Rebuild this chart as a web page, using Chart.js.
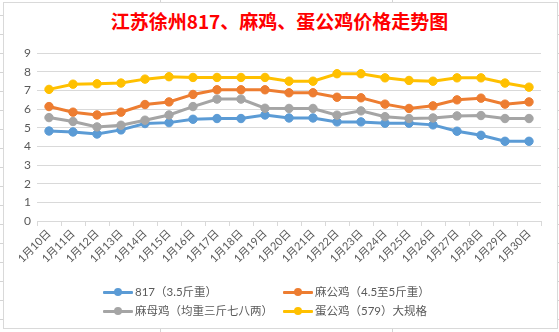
<!DOCTYPE html>
<html>
<head>
<meta charset="utf-8">
<script src="https://cdn.jsdelivr.net/npm/chart.js@4/dist/chart.umd.min.js"></script>
<style>
  html, body { margin:0; padding:0; background:#fff; }
  #sheet { position:absolute; left:0; top:0; width:559px; height:332px; overflow:hidden;
    background-image: repeating-linear-gradient(to bottom, transparent 0px, transparent 15px, #d4d4d4 15px, #d4d4d4 16px, transparent 16px, transparent 19px);
  }
  .col { position:absolute; top:0; width:1px; height:332px; background:#d4d4d4; }
  #box { position:absolute; left:3px; top:2px; width:553px; height:325px; border:1px solid #d9d9d9; background:#fff; }
  #title { position:absolute; left:0; width:559px; top:8px; text-align:center; color:#ff0000;
    font-family:"Noto Sans CJK SC", sans-serif; font-weight:bold; font-size:19px; line-height:26px; }
  #c { position:absolute; left:0; top:0; }
  .lg { position:absolute; font-family: Lato, "Noto Sans CJK SC", sans-serif; font-size:11.5px; color:#595959; line-height:16px; white-space:nowrap; }
  .sym { position:absolute; width:30px; height:3px; top:6.5px; left:0; border-radius:1px; }
  .dot { position:absolute; width:8px; height:8px; border-radius:50%; left:11px; top:-2.5px; }
  .txt { position:absolute; left:32px; top:0; }
</style>
</head>
<body>
<div id="sheet">
  <div class="col" style="left:160px"></div>
  <div class="col" style="left:392px"></div>
</div>
<div id="box"></div>
<div id="title"></div>
<canvas id="c" width="559" height="332"></canvas>
<div id="legend"></div>
<script>
const titleText = "江苏徐州817、麻鸡、蛋公鸡价格走势图";
const categories = ["1月10日","1月11日","1月12日","1月13日","1月14日","1月15日","1月16日","1月17日","1月18日","1月19日","1月20日","1月21日","1月22日","1月23日","1月24日","1月25日","1月26日","1月27日","1月28日","1月29日","1月30日"];
const seriesNames = ["817（3.5斤重）","麻公鸡（4.5至5斤重）","麻母鸡（均重三斤七八两）","蛋公鸡（579）大规格"];
const s817   = [4.82,4.77,4.66,4.88,5.22,5.27,5.45,5.49,5.49,5.68,5.52,5.52,5.31,5.31,5.24,5.24,5.15,4.81,4.59,4.27,4.27];
const maGong = [6.13,5.83,5.68,5.83,6.24,6.38,6.78,7.03,7.03,7.03,6.87,6.87,6.63,6.60,6.26,6.03,6.17,6.49,6.58,6.26,6.38];
const maMu   = [5.54,5.33,5.04,5.13,5.40,5.68,6.13,6.53,6.53,6.04,6.03,6.03,5.67,5.90,5.59,5.49,5.52,5.63,5.65,5.49,5.49];
const danGong= [7.05,7.33,7.35,7.39,7.60,7.73,7.69,7.69,7.69,7.69,7.49,7.49,7.89,7.89,7.67,7.53,7.49,7.67,7.67,7.39,7.17];
const yTicks = [0,1,2,3,4,5,6,7,8,9];

const colors = ["#5b9bd5","#ed7d31","#a5a5a5","#ffc000"];
const values = [s817, maGong, maMu, danGong];

document.getElementById('title').textContent = titleText;

const datasets = values.map((v,i)=>({
  label: seriesNames[i],
  data: v,
  borderColor: colors[i],
  backgroundColor: colors[i],
  pointBackgroundColor: colors[i],
  pointBorderColor: colors[i],
  borderWidth: 3,
  pointRadius: 4.2,
  pointBorderWidth: 1,
  tension: 0,
  order: 4 - i
}));

new Chart(document.getElementById('c'), {
  type: 'line',
  data: { labels: categories, datasets },
  options: {
    responsive: false,
    animation: false,
    layout: { padding: { left: 7, right: 18, top: 53, bottom: 0 } },
    plugins: { legend: { display:false }, title: { display:false }, tooltip: { enabled:false } },
    scales: {
      x: {
        offset: true,
        grid: { offset: true, drawOnChartArea: false, drawTicks: true, tickLength: 5, color: '#d9d9d9' },
        border: { color: '#d9d9d9' },
        ticks: { minRotation: 45, maxRotation: 45, autoSkip: false, color: '#595959', padding: 1,
          font: { family: 'Lato, "Noto Sans CJK SC", sans-serif', size: 11 } },
        afterFit: s => { s.height = 111; }
      },
      y: {
        min: 0, max: 9,
        afterBuildTicks: s => { s.ticks = yTicks.map(v=>({value:v})); },
        grid: { color: '#d9d9d9', drawTicks: false },
        border: { display: false },
        ticks: { color: '#595959', padding: 6, font: { family: 'Lato, "Noto Sans CJK SC", sans-serif', size: 12 } },
        afterFit: s => { s.width = 30; }
      }
    }
  }
});

// HTML legend built from series names
const pos = [[103,284],[283,284],[103,303],[283,303]];
const lg = document.getElementById('legend');
seriesNames.forEach((n,i)=>{
  const d = document.createElement('div');
  d.className = 'lg';
  d.style.left = pos[i][0] + 'px';
  d.style.top = pos[i][1] + 'px';
  d.innerHTML = '<span class="sym" style="background:'+colors[i]+'"><span class="dot" style="background:'+colors[i]+'"></span></span><span class="txt"></span>';
  d.querySelector('.txt').textContent = n;
  lg.appendChild(d);
});
</script>
</body>
</html>
